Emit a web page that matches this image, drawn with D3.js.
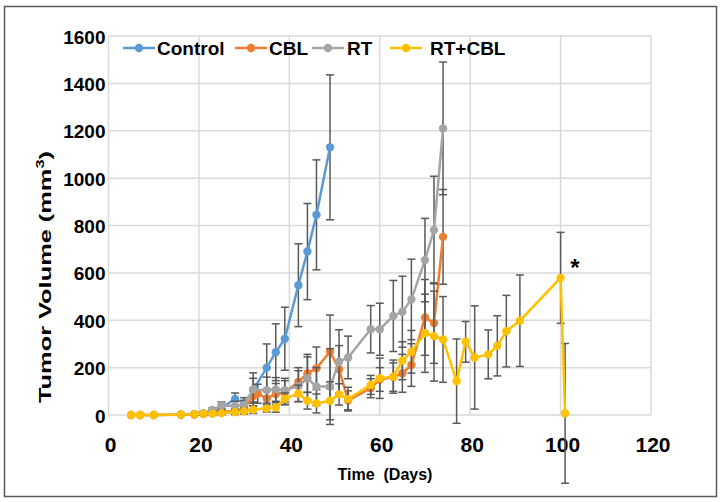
<!DOCTYPE html>
<html>
<head>
<meta charset="utf-8">
<script src="https://cdn.jsdelivr.net/npm/d3@7"></script>
<style>
  body { margin: 0; background: #fff; }
  text { font-family: "Liberation Sans", Arial, sans-serif; font-weight: bold; fill: #000; }
</style>
</head>
<body>
<div id="chart"></div>
<script>
// Datos (dias, volumen medio, error).
const seriesNames = ["Control", "CBL", "RT", "RT+CBL"];
const seriesColors = ["#5b9bd5", "#ed7d31", "#a5a5a5", "#ffc000"];

const controlDays = [23, 25, 28, 30, 32, 35, 37, 39, 42, 44, 46, 49];
const controlVol  = [15, 30, 68, 48, 105, 200, 265, 322, 548, 690, 845, 1130];
const controlErr  = [10, 15, 25, 25, 50, 100, 120, 133, 175, 203, 232, 306];

const cblDays = [5, 7, 10, 16, 19, 21, 23, 25, 28, 30, 32, 33, 35, 37, 39, 42, 44, 46, 49, 51, 53, 58, 60, 63, 65, 67, 70, 72, 74];
const cblVol  = [0, 0, 0, 1, 2, 4, 8, 12, 18, 25, 80, 90, 70, 88, 95, 140, 176, 197, 267, 193, 62, 113, 150, 160, 176, 211, 412, 388, 752];
const cblErr  = [0, 0, 0, 1, 2, 3, 5, 6, 8, 10, 30, 40, 40, 45, 50, 60, 80, 90, 155, 100, 40, 40, 50, 60, 80, 90, 160, 170, 200];

const rtDays = [5, 7, 10, 16, 19, 21, 23, 25, 28, 30, 32, 35, 37, 39, 42, 44, 46, 49, 51, 53, 58, 60, 63, 65, 67, 70, 72, 74];
const rtVol  = [0, 0, 0, 2, 4, 8, 21, 40, 38, 42, 108, 105, 108, 105, 122, 155, 120, 120, 225, 243, 362, 362, 418, 436, 488, 654, 781, 1210];
const rtErr  = [0, 0, 0, 2, 3, 5, 10, 15, 20, 20, 70, 55, 50, 50, 65, 90, 80, 160, 135, 90, 100, 110, 150, 150, 170, 176, 227, 280];

const combDays = [5, 7, 10, 16, 19, 21, 23, 25, 28, 30, 32, 35, 37, 39, 42, 44, 46, 49, 51, 53, 58, 60, 63, 65, 67, 70, 72, 74, 77, 79, 81, 84, 86, 88, 91, 100, 101];
const combVol  = [0, 0, 0, 2, 3, 5, 5, 8, 12, 16, 22, 28, 32, 68, 91, 60, 49, 60, 87, 67, 127, 155, 162, 229, 267, 345, 333, 319, 143, 309, 243, 256, 292, 354, 398, 579, 7];
const combErr  = [0, 0, 0, 3, 4, 5, 5, 8, 10, 12, 15, 15, 20, 25, 35, 35, 40, 80, 45, 50, 40, 85, 70, 80, 90, 165, 190, 181, 178, 86, 218, 103, 127, 151, 193, 192, 295];

const xTicks = [0, 20, 40, 60, 80, 100, 120];
const yTicks = [0, 200, 400, 600, 800, 1000, 1200, 1400, 1600];

const W = 726, H = 502;
const plotLeft = 108.5, plotRight = 651, plotTop = 36, plotBottom = 415;

function armarSeries() {
  const raw = [
    [controlDays, controlVol, controlErr],
    [cblDays, cblVol, cblErr],
    [rtDays, rtVol, rtErr],
    [combDays, combVol, combErr]
  ];
  return raw.map(function(r, k) {
    return {
      name: seriesNames[k],
      color: seriesColors[k],
      points: r[0].map(function(d, i) { return { x: d, y: r[1][i], e: r[2][i] }; })
    };
  });
}

const x = d3.scaleLinear().domain([0, 120]).range([plotLeft, plotRight]);
const y = d3.scaleLinear().domain([0, 1600]).range([plotBottom, plotTop]);

const svg = d3.select("#chart").append("svg")
  .attr("width", W).attr("height", H);

// marco exterior
svg.append("rect")
  .attr("x", 4.5).attr("y", 6.5).attr("width", 712).attr("height", 490)
  .attr("fill", "none").attr("stroke", "#595959").attr("stroke-width", 1.5);

// rejilla
svg.append("g")
  .selectAll("line").data(xTicks).enter().append("line")
  .attr("x1", d => x(d)).attr("x2", d => x(d))
  .attr("y1", plotTop).attr("y2", plotBottom)
  .attr("stroke", "#d9d9d9").attr("stroke-width", 1.5);
svg.append("g")
  .selectAll("line").data(yTicks).enter().append("line")
  .attr("x1", plotLeft).attr("x2", plotRight)
  .attr("y1", d => y(d)).attr("y2", d => y(d))
  .attr("stroke", "#d9d9d9").attr("stroke-width", 1.5);

// etiquetas de ejes
svg.append("g").selectAll("text").data(yTicks).enter().append("text")
  .attr("x", plotLeft - 3).attr("y", d => y(d) + 1)
  .attr("text-anchor", "end").attr("dominant-baseline", "central")
  .attr("font-size", "19px")
  .text(d => d);
svg.append("g").selectAll("text").data(xTicks).enter().append("text")
  .attr("x", d => x(d) + 2).attr("y", 452)
  .attr("text-anchor", "middle")
  .attr("font-size", "21px")
  .text(d => d);

svg.append("text")
  .attr("x", 385).attr("y", 480)
  .attr("text-anchor", "middle").attr("font-size", "16px")
  .attr("xml:space", "preserve")
  .text("Time  (Days)");

const yTitle = svg.append("text")
  .attr("transform", "translate(51,277) rotate(-90)")
  .attr("text-anchor", "middle").attr("font-size", "17px")
  .attr("textLength", 252).attr("lengthAdjust", "spacingAndGlyphs");
yTitle.append("tspan").text("Tumor Volume (mm");
yTitle.append("tspan").attr("font-size", "11px").attr("dy", -7).text("3");
yTitle.append("tspan").attr("dy", 7).text(")");

// series
const series = armarSeries();
const line = d3.line().x(d => x(d.x)).y(d => y(d.y));

series.forEach(function(s) {
  const g = svg.append("g");
  const eb = g.append("g").selectAll("g").data(s.points.filter(p => p.e > 0)).enter().append("g")
    .attr("stroke", "#595959").attr("stroke-width", 1.5);
  eb.append("line")
    .attr("x1", d => x(d.x)).attr("x2", d => x(d.x))
    .attr("y1", d => y(d.y + d.e)).attr("y2", d => y(d.y - d.e));
  eb.append("line")
    .attr("x1", d => x(d.x) - 4).attr("x2", d => x(d.x) + 4)
    .attr("y1", d => y(d.y + d.e)).attr("y2", d => y(d.y + d.e));
  eb.append("line")
    .attr("x1", d => x(d.x) - 4).attr("x2", d => x(d.x) + 4)
    .attr("y1", d => y(d.y - d.e)).attr("y2", d => y(d.y - d.e));

  g.append("path").datum(s.points)
    .attr("d", line).attr("fill", "none")
    .attr("stroke", s.color).attr("stroke-width", 2.5);
  g.append("g").selectAll("circle").data(s.points).enter().append("circle")
    .attr("cx", d => x(d.x)).attr("cy", d => y(d.y)).attr("r", 4.2)
    .attr("fill", s.color);
});

// asterisco
svg.append("text")
  .attr("x", 575).attr("y", 276)
  .attr("text-anchor", "middle").attr("font-size", "24px")
  .text("*");

// leyenda
const legendX = [123, 235, 312, 390];
const legendTextGap = [34, 34, 35, 40];
const lg = svg.append("g").selectAll("g").data(series).enter().append("g")
  .attr("transform", (d, i) => "translate(" + legendX[i] + ",48)");
lg.append("line").attr("x1", 0).attr("x2", 32)
  .attr("stroke", d => d.color).attr("stroke-width", 2.5);
lg.append("circle").attr("cx", 16).attr("r", 4.2).attr("fill", d => d.color);
lg.append("text")
  .attr("x", (d, i) => legendTextGap[i]).attr("dominant-baseline", "central")
  .attr("font-size", "19px")
  .text(d => d.name);
</script>
</body>
</html>
